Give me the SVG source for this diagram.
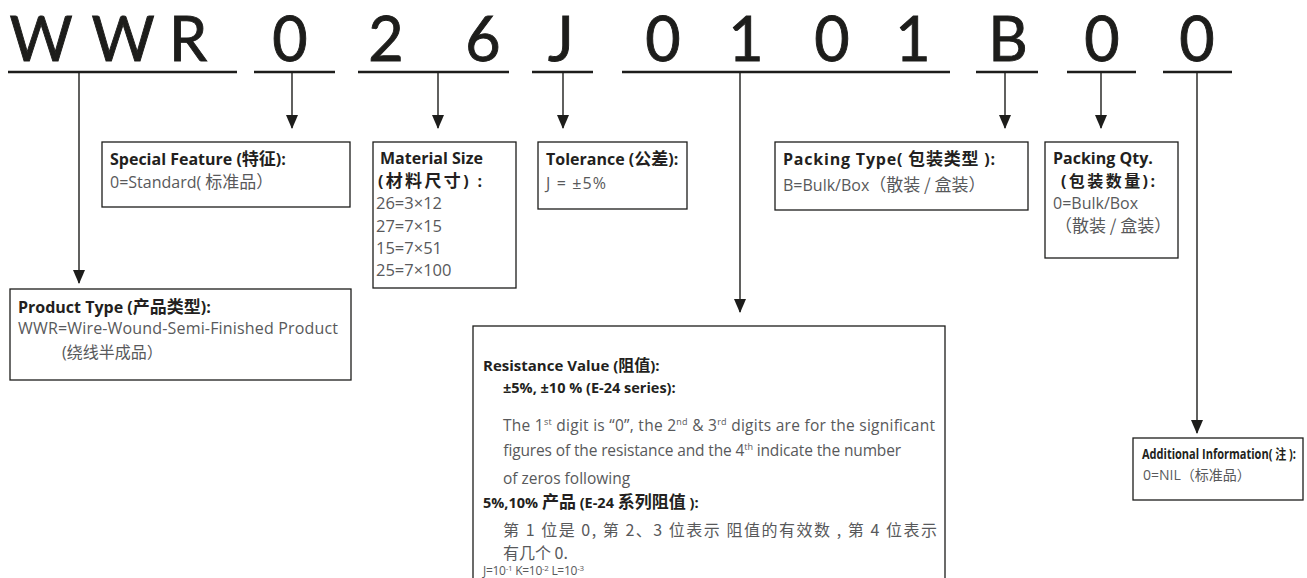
<svg xmlns="http://www.w3.org/2000/svg" width="1307" height="578" viewBox="0 0 1307 578">
<style>
.big{font-family:Lato,"Open Sans",sans-serif;font-size:61px;fill:#1d1d1b;stroke:#1d1d1b;stroke-width:0.9;text-anchor:middle}
.ul{stroke:#1d1d1b;stroke-width:2.4}
.con{stroke:#1d1d1b;stroke-width:1.4;fill:none}
.box{fill:#fff;stroke:#1d1d1b;stroke-width:1.3}
.t{font-family:"Open Sans","Noto Sans CJK SC",sans-serif;font-size:16px;font-weight:bold;fill:#231f20}
.b{font-family:"Open Sans","Noto Sans CJK SC",sans-serif;font-size:16px;fill:#58595b}
.c{font-family:"Noto Sans CJK SC","Noto Sans CJK JP",sans-serif;font-size:17px}
.s{font-size:9px}
</style>
<defs>
<marker id="ah" markerUnits="userSpaceOnUse" markerWidth="14" markerHeight="18" refX="13" refY="6" orient="auto" viewBox="0 0 14 12">
<path d="M0,0 L14,6 L0,12 Z" fill="#1d1d1b"/>
</marker>
</defs>
<g id="code">
<text class="big" x="41" y="61">W</text>
<text class="big" x="123" y="61">W</text>
<text class="big" x="188" y="61">R</text>
<text class="big" x="290" y="61">0</text>
<text class="big" x="386" y="61">2</text>
<text class="big" x="483" y="61">6</text>
<text class="big" x="561" y="61">J</text>
<text class="big" x="663" y="61">0</text>
<text class="big" x="746" y="61">1</text>
<text class="big" x="832" y="61">0</text>
<text class="big" x="913" y="61">1</text>
<text class="big" x="1008" y="61">B</text>
<text class="big" x="1102" y="61">0</text>
<text class="big" x="1197" y="61">0</text>
<line class="ul" x1="8" y1="72" x2="237" y2="72"/>
<line class="ul" x1="254" y1="72" x2="335" y2="72"/>
<line class="ul" x1="358" y1="72" x2="509" y2="72"/>
<line class="ul" x1="532" y1="72" x2="593" y2="72"/>
<line class="ul" x1="622" y1="72" x2="950" y2="72"/>
<line class="ul" x1="976" y1="72" x2="1038" y2="72"/>
<line class="ul" x1="1067" y1="72" x2="1136" y2="72"/>
<line class="ul" x1="1163" y1="72" x2="1232" y2="72"/>
</g>
<g id="connectors">
<line class="con" x1="79" y1="73" x2="79" y2="283" marker-end="url(#ah)"/>
<line class="con" x1="292" y1="73" x2="292" y2="128" marker-end="url(#ah)"/>
<line class="con" x1="438" y1="73" x2="438" y2="128" marker-end="url(#ah)"/>
<line class="con" x1="563" y1="73" x2="563" y2="128" marker-end="url(#ah)"/>
<line class="con" x1="740" y1="73" x2="740" y2="312" marker-end="url(#ah)"/>
<line class="con" x1="1005" y1="73" x2="1005" y2="128" marker-end="url(#ah)"/>
<line class="con" x1="1101" y1="73" x2="1101" y2="128" marker-end="url(#ah)"/>
<line class="con" x1="1197" y1="73" x2="1197" y2="433" marker-end="url(#ah)"/>
</g>
<g id="product-type">
<rect class="box" x="10" y="289" width="341" height="91"/>
<text class="t" x="18" y="313">Product Type (<tspan class="c">产品类型</tspan>):</text>
<text class="b" x="18" y="334" textLength="320" lengthAdjust="spacing">WWR=Wire-Wound-Semi-Finished Product</text>
<text class="b" x="62" y="358">(<tspan class="c" style="font-size:16px">绕线半成品）</tspan></text>
</g>
<g id="special-feature">
<rect class="box" x="102" y="142" width="248" height="65"/>
<text class="t" x="110" y="165">Special Feature (<tspan class="c">特征</tspan>):</text>
<text class="b" x="110" y="188">0=Standard( <tspan class="c">标准品）</tspan></text>
</g>
<g id="material-size">
<rect class="box" x="373" y="142" width="143" height="146"/>
<text class="t" x="380" y="164">Material Size</text>
<text class="t" x="378" y="187" textLength="104" lengthAdjust="spacing">(<tspan class="c">材料尺寸</tspan>) :</text>
<text class="b" x="376" y="209" style="font-size:16.5px">26=3×12</text>
<text class="b" x="376" y="232" style="font-size:16.5px">27=7×15</text>
<text class="b" x="376" y="254" style="font-size:16.5px">15=7×51</text>
<text class="b" x="376" y="276" style="font-size:16.5px">25=7×100</text>
</g>
<g id="tolerance">
<rect class="box" x="538" y="142" width="149" height="67"/>
<text class="t" x="546" y="165">Tolerance (<tspan class="c">公差</tspan>):</text>
<text class="b" x="546" y="189" textLength="60" lengthAdjust="spacing">J = ±5%</text>
</g>
<g id="packing-type">
<rect class="box" x="775" y="142" width="253" height="68"/>
<text class="t" x="783" y="165" textLength="212" lengthAdjust="spacing">Packing Type( <tspan class="c">包装类型</tspan> ):</text>
<text class="b" x="783" y="191">B=Bulk/Box<tspan class="c">（散装 / 盒装）</tspan></text>
</g>
<g id="packing-qty">
<rect class="box" x="1045" y="142" width="133" height="116"/>
<text class="t" x="1053" y="164">Packing Qty.</text>
<text class="t" x="1061" y="187" textLength="94" lengthAdjust="spacing">(<tspan class="c" style="font-size:16px">包装数量</tspan>):</text>
<text class="b" x="1053" y="209">0=Bulk/Box</text>
<text class="b" x="1055" y="232"><tspan class="c">（散装 / 盒装）</tspan></text>
</g>
<g id="resistance-value">
<rect class="box" x="473" y="326" width="472" height="280"/>
<text class="t" x="483" y="371" style="font-size:15px">Resistance Value (<tspan class="c" style="font-size:16px">阻值</tspan>):</text>
<text class="t" x="503" y="393" style="font-size:14.5px">±5%, ±10 % (E-24 series):</text>
<text class="b" x="503" y="431" style="font-size:15.5px" textLength="432" lengthAdjust="spacing">The 1<tspan class="s" dy="-6">st</tspan><tspan dy="6"> digit is “0”, the 2</tspan><tspan class="s" dy="-6">nd</tspan><tspan dy="6">  &amp; 3</tspan><tspan class="s" dy="-6">rd</tspan><tspan dy="6"> digits are for the significant</tspan></text>
<text class="b" x="503" y="456" style="font-size:15.5px" textLength="398" lengthAdjust="spacing">figures of the resistance and the 4<tspan class="s" dy="-6">th</tspan><tspan dy="6"> indicate the number</tspan></text>
<text class="b" x="503" y="484" style="font-size:15.5px">of zeros following</text>
<text class="t" x="483" y="508" style="font-size:14.5px">5%,10% <tspan class="c">产品</tspan> (E-24 <tspan class="c">系列阻值</tspan> ):</text>
<text class="b" x="503" y="536" style="font-size:16px" textLength="434" lengthAdjust="spacing"><tspan class="c" style="font-size:16px">第 1 位是 0, 第 2、3 位表示 阻值的有效数 , 第 4 位表示</tspan></text>
<text class="b" x="503" y="559" style="font-size:16px"><tspan class="c" style="font-size:16px">有几个 0.</tspan></text>
<text class="b" x="483" y="575" style="font-size:12px" textLength="101" lengthAdjust="spacing">J=10<tspan style="font-size:8px" dy="-4">-1</tspan><tspan dy="4">  K=10</tspan><tspan style="font-size:8px" dy="-4">-2</tspan><tspan dy="4">  L=10</tspan><tspan style="font-size:8px" dy="-4">-3</tspan></text>
</g>
<g id="additional-information">
<rect class="box" x="1133" y="438" width="170" height="62"/>
<text class="t" x="1142" y="459" style="font-size:13.5px" textLength="154" lengthAdjust="spacingAndGlyphs">Additional Information( 注 ):</text>
<text class="b" x="1143" y="480" style="font-size:14px">0=NIL<tspan class="c" style="font-size:14px">（标准品）</tspan></text>
</g>
</svg>
